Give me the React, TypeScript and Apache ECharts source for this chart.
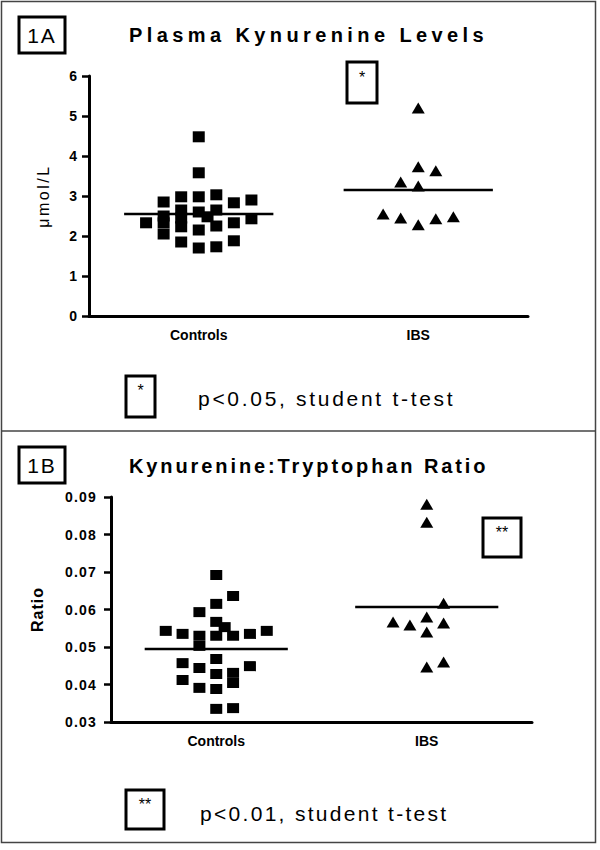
import React, { useEffect, useRef } from "react";
import * as echarts from "echarts";

// ---------- data ----------
const groups = ["Controls", "IBS"];

// Panel 1A: plasma kynurenine (µmol/L)
const controlsA = [4.48, 3.58, 2.85, 2.98, 2.98, 3.03, 2.83, 2.9, 2.33, 2.5, 2.33, 2.65, 2.45, 2.23, 2.6, 2.48, 2.65, 2.25, 2.33, 2.43, 2.15, 2.05, 1.85, 1.7, 1.73, 1.88];
const controlsAColumn = [0, 0, -2, -1, 0, 1, 2, 3, -3, -2, -2, -1, -1, -1, 0, 0.5, 1, 1, 2, 3, 0, -2, -1, 0, 1, 2];
const ibsA = [5.2, 3.73, 3.63, 3.35, 3.25, 2.55, 2.45, 2.28, 2.43, 2.48];
const ibsAColumn = [0, 0, 1, -1, 0, -2, -1, 0, 1, 2];
const meansA = [2.55, 3.15];

// Panel 1B: kynurenine:tryptophan ratio
const controlsB = [0.0692, 0.0636, 0.0593, 0.0615, 0.0567, 0.0553, 0.0543, 0.0535, 0.053, 0.053, 0.053, 0.0535, 0.0543, 0.0503, 0.0457, 0.0468, 0.0444, 0.0449, 0.0428, 0.0431, 0.0412, 0.0404, 0.0391, 0.0388, 0.0335, 0.0337];
const controlsBColumn = [0, 1, -1, 0, 0, 0.5, -3, -2, -1, 0, 1, 2, 3, -1, -2, 0, -1, 2, 0, 1, -2, 1, -1, 0, 0, 1];
const ibsB = [0.0881, 0.0833, 0.0617, 0.058, 0.0567, 0.0559, 0.0564, 0.054, 0.0447, 0.046];
const ibsBColumn = [0, 0, 1, 0, -2, -1, 1, 0, 0, 1];
const meansB = [0.0495, 0.0607];

const titleA = "Plasma Kynurenine Levels";
const titleB = "Kynurenine:Tryptophan Ratio";
const noteA = "p<0.05, student t-test";
const noteB = "p<0.01, student t-test";
const unitA = "\u03bcmol/L";
const unitB = "Ratio";

// ---------- styling ----------
const FONT = '"Liberation Sans", Arial, Helvetica, sans-serif';
const JITTER = 0.08;
const MEAN_HALF = 0.34;

function points(values: number[], cols: number[], groupIndex: number) {
  return values.map((v, i) => [groupIndex + 1 + cols[i] * JITTER, v]);
}
function meanLine(mean: number, groupIndex: number) {
  return [
    [groupIndex + 1 - MEAN_HALF, mean],
    [groupIndex + 1 + MEAN_HALF, mean],
  ];
}

function box(x: number, y: number, w: number, h: number) {
  return {
    type: "rect",
    shape: { x, y, width: w, height: h },
    style: { fill: "none", stroke: "#000", lineWidth: 3 },
  };
}
function label(text: string, x: number, y: number, fontSize: number, fontWeight = "normal", align = "left") {
  return {
    type: "text",
    x,
    y,
    style: {
      text,
      fontSize,
      fontWeight,
      fontFamily: FONT,
      fill: "#000",
      align,
      verticalAlign: "middle",
    },
  };
}

const spacing: Record<string, number> = {
  [titleA]: 4.4,
  [titleB]: 2.9,
  [noteA]: 2.7,
  [noteB]: 2.3,
  [unitA]: 2.5,
  [unitB]: 1,
  "1A": 2,
  "1B": 2,
  "0.03": 1.2,
  "0.04": 1.2,
  "0.05": 1.2,
  "0.06": 1.2,
  "0.07": 1.2,
  "0.08": 1.2,
  "0.09": 1.2,
};

export default function App() {
  const ref = useRef<HTMLDivElement>(null);
  useEffect(() => {
    document.body.style.margin = "0";
    const chart = echarts.init(ref.current!, undefined, { renderer: "svg" });

    const xAxisBase = (gridIndex: number) => ({
      type: "value",
      gridIndex,
      min: 0.5,
      max: 2.5,
      interval: 0.5,
      splitLine: { show: false },
      axisTick: { show: false },
      axisLine: { show: true, onZero: false, lineStyle: { color: "#000", width: 3 } },
      axisLabel: {
        margin: 12,
        fontSize: 14,
        fontWeight: "bold",
        fontFamily: FONT,
        color: "#000",
        showMinLabel: true,
        showMaxLabel: true,
        formatter: (v: number) => (Math.abs(v - 1) < 1e-6 ? groups[0] : Math.abs(v - 2) < 1e-6 ? groups[1] : ""),
      },
    });

    const yAxisBase = (gridIndex: number) => ({
      type: "value",
      gridIndex,
      splitLine: { show: false },
      axisLine: { show: true, lineStyle: { color: "#000", width: 3 } },
      axisTick: { show: true, length: 7, lineStyle: { color: "#000", width: 2.5 } },
      nameLocation: "middle",
      nameRotate: 90,
    });

    const sym = { color: "#000", opacity: 1 };

    chart.setOption({
      animation: false,
      backgroundColor: "#fff",
      grid: [
        { left: 89, top: 76, width: 439, height: 240 },
        { left: 111, top: 497, width: 421, height: 225 },
      ],
      xAxis: [xAxisBase(0), xAxisBase(1)],
      yAxis: [
        {
          ...yAxisBase(0),
          min: 0,
          max: 6,
          interval: 1,
          name: unitA,
          nameGap: 38,
          nameTextStyle: { fontSize: 16, fontFamily: FONT, color: "#000" },
          axisLabel: { margin: 12, fontSize: 14, fontWeight: "bold", fontFamily: FONT, color: "#000" },
        },
        {
          ...yAxisBase(1),
          min: 0.03,
          max: 0.09,
          interval: 0.01,
          name: unitB,
          nameGap: 66,
          nameTextStyle: { fontSize: 16, fontWeight: "bold", fontFamily: FONT, color: "#000" },
          axisLabel: {
            margin: 14,
            fontSize: 14,
            fontWeight: "bold",
            fontFamily: FONT,
            color: "#000",
            formatter: (v: number) => v.toFixed(2),
          },
        },
      ],
      series: [
        {
          type: "scatter",
          xAxisIndex: 0,
          yAxisIndex: 0,
          symbol: "rect",
          symbolSize: [12, 11],
          itemStyle: sym,
          data: points(controlsA, controlsAColumn, 0),
        },
        {
          type: "scatter",
          xAxisIndex: 0,
          yAxisIndex: 0,
          symbol: "triangle",
          symbolSize: [13, 11],
          itemStyle: sym,
          data: points(ibsA, ibsAColumn, 1),
        },
        ...meansA.map((m, i) => ({
          type: "line",
          xAxisIndex: 0,
          yAxisIndex: 0,
          symbol: "none",
          lineStyle: { color: "#000", width: 2.5 },
          data: meanLine(m, i),
        })),
        {
          type: "scatter",
          xAxisIndex: 1,
          yAxisIndex: 1,
          symbol: "rect",
          symbolSize: [12, 10],
          itemStyle: sym,
          data: points(controlsB, controlsBColumn, 0),
        },
        {
          type: "scatter",
          xAxisIndex: 1,
          yAxisIndex: 1,
          symbol: "triangle",
          symbolSize: [13, 11],
          itemStyle: sym,
          data: points(ibsB, ibsBColumn, 1),
        },
        ...meansB.map((m, i) => ({
          type: "line",
          xAxisIndex: 1,
          yAxisIndex: 1,
          symbol: "none",
          lineStyle: { color: "#000", width: 2.5 },
          data: meanLine(m, i),
        })),
      ],
      graphic: [
        { type: "rect", shape: { x: 1.5, y: 1.5, width: 594, height: 841 }, style: { fill: "none", stroke: "#444", lineWidth: 1.5 } },
        { type: "line", shape: { x1: 1.5, y1: 431, x2: 595.5, y2: 431 }, style: { stroke: "#444", lineWidth: 1.5 } },
        // panel A
        box(19, 17, 46, 36),
        label("1A", 42, 35.5, 21, "normal", "center"),
        label(titleA, 129, 35, 20, "bold"),
        box(347, 62, 30, 41),
        label("*", 362, 77, 16, "normal", "center"),
        box(126, 376, 29, 41),
        label("*", 140.5, 390, 16, "normal", "center"),
        label(noteA, 198, 398, 21),
        // panel B
        box(19, 447, 46, 36),
        label("1B", 42, 465.5, 21, "normal", "center"),
        label(titleB, 129, 466, 20, "bold"),
        box(483, 518, 38, 39),
        label("**", 502, 532, 16, "normal", "center"),
        box(126, 790, 38, 39),
        label("**", 145, 804, 16, "normal", "center"),
        label(noteB, 200, 813, 21),
      ],
    });

    const svg = ref.current!.querySelector("svg");
    if (svg) {
      svg.querySelectorAll("text").forEach((t) => {
        const s = spacing[(t.textContent || "").trim()];
        if (s) (t as SVGTextElement).style.letterSpacing = s + "px";
      });
    }
    return () => chart.dispose();
  }, []);
  return <div ref={ref} style={{ width: 600, height: 850 }} />;
}
